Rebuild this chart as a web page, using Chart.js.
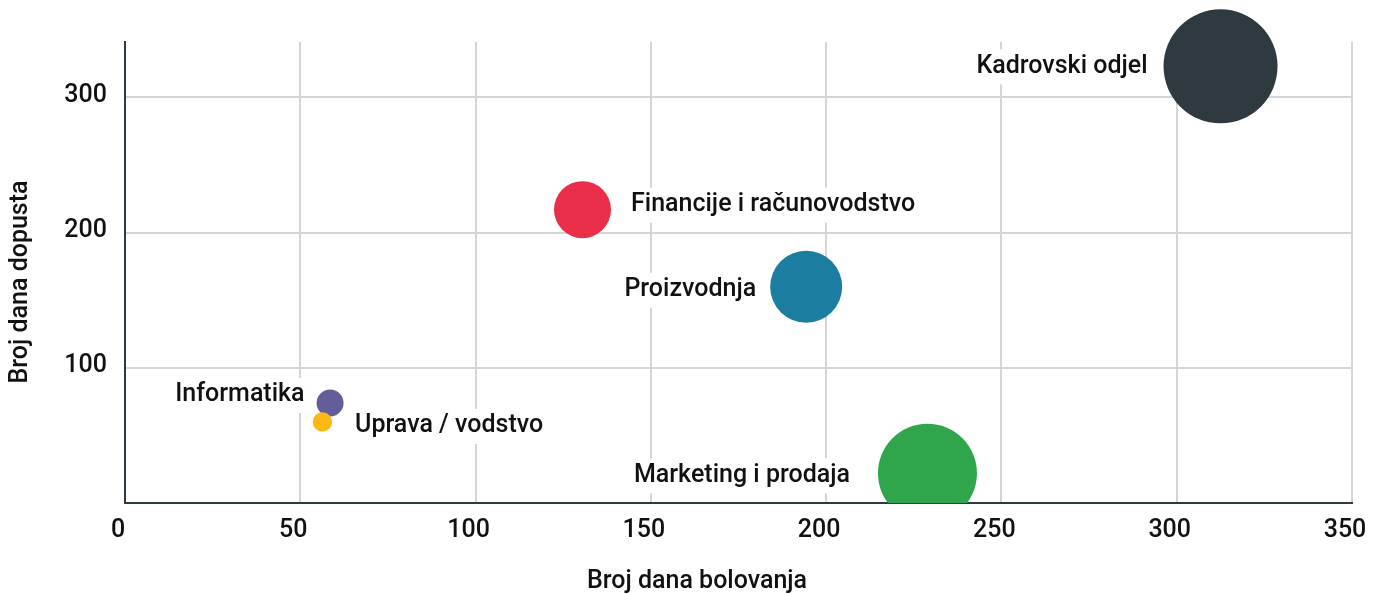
<!DOCTYPE html>
<html>
<head>
<meta charset="utf-8">
<script src="https://cdn.jsdelivr.net/npm/chart.js@4.4.1/dist/chart.umd.min.js"></script>
<style>
html,body{margin:0;padding:0;background:#ffffff;}
#wrap{width:1384px;height:594px;}
</style>
</head>
<body>
<div id="wrap"><canvas id="c" width="1384" height="594"></canvas></div>
<script>
// ---- data ----
const categories = ['Kadrovski odjel', 'Financije i računovodstvo', 'Proizvodnja', 'Informatika', 'Uprava / vodstvo', 'Marketing i prodaja'];
const sickDays = [312.5, 130.5, 194.3, 58.5, 56.3, 228.9];      // Broj dana bolovanja
const vacationDays = [323, 217, 160, 74, 60, 22];                // Broj dana dopusta
const bubbleValues = [57, 28.5, 36, 13.5, 9.7, 49.5];            // bubble size value
const xTickValues = [0, 50, 100, 150, 200, 250, 300, 350];
const yTickValues = [100, 200, 300];
const xTitle = 'Broj dana bolovanja';
const yTitle = 'Broj dana dopusta';

// ---- styles ----
const palette = ['#2e3a3f', '#e92e4a', '#1b7d9f', '#635d99', '#fdb913', '#2fa64b'];
const labelStyle = [
  { side: 'left', gap: 16, dy: 0 },
  { side: 'right', gap: 20, dy: -5 },
  { side: 'left', gap: 14, dy: 3 },
  { side: 'left', gap: 12, dy: -8 },
  { side: 'right', gap: 23, dy: 4 },
  { side: 'left', gap: 28, dy: 2 }
];
const FONT = '500 25px Roboto';
const TEXT = '#111111';

const labelPlugin = {
  id: 'bubbleLabels',
  afterDatasetsDraw(chart) {
    const ctx = chart.ctx;
    const meta = chart.getDatasetMeta(0);
    ctx.save();
    ctx.font = FONT;
    ctx.textBaseline = 'middle';
    ctx.textAlign = 'left';
    meta.data.forEach((el, i) => {
      const st = labelStyle[i];
      const r = el.options.radius;
      const txt = categories[i];
      const w = ctx.measureText(txt).width;
      const x = st.side === 'left' ? el.x - r - st.gap - w : el.x + r + st.gap;
      const y = el.y + st.dy;
      ctx.fillStyle = '#ffffff';
      ctx.fillRect(x - 3, y - 17, w + 6, 35);
      ctx.fillStyle = TEXT;
      ctx.fillText(txt, x, y);
    });
    ctx.restore();
  },
  afterDraw(chart) {
    const ctx = chart.ctx;
    ctx.save();
    ctx.font = FONT;
    ctx.fillStyle = TEXT;
    ctx.textBaseline = 'middle';
    ctx.textAlign = 'center';
    ctx.fillText(xTitle, 697, 582);
    ctx.translate(21, 282);
    ctx.rotate(-Math.PI / 2);
    ctx.fillText(yTitle, 0, 0);
    ctx.restore();
  }
};

const tickFont = { family: 'Roboto', size: 25, weight: '500' };
function zeroPad(s) { s.paddingLeft = 0; s.paddingRight = 0; s.paddingTop = 0; s.paddingBottom = 0; }

new Chart(document.getElementById('c'), {
  type: 'bubble',
  data: {
    datasets: [{
      label: 'Odjeli',
      data: categories.map((c, i) => ({ x: sickDays[i], y: vacationDays[i], r: bubbleValues[i] })),
      backgroundColor: palette,
      hoverBackgroundColor: palette,
      borderWidth: 0,
      hoverBorderWidth: 0,
      hoverRadius: 0,
      clip: { left: false, top: false, right: false, bottom: 0 }
    }]
  },
  options: {
    responsive: false,
    animation: false,
    events: [],
    layout: { autoPadding: false, padding: { top: 42, right: 32, left: 0, bottom: 0 } },
    plugins: { legend: { display: false }, tooltip: { enabled: false } },
    scales: {
      x: {
        type: 'linear',
        min: 0,
        max: 350,
        afterFit(s) { s.height = 91; zeroPad(s); },
        afterBuildTicks(s) { s.ticks = xTickValues.map(v => ({ value: v })); },
        grid: { color: '#d3d5d6', lineWidth: 2, drawTicks: false },
        border: { color: '#2e3a3f', width: 2 },
        ticks: { font: tickFont, color: TEXT, padding: 13, labelOffset: -7, maxRotation: 0, autoSkip: false }
      },
      y: {
        type: 'linear',
        min: 0,
        max: 341,
        afterFit(s) { s.width = 125; zeroPad(s); },
        afterBuildTicks(s) { s.ticks = yTickValues.map(v => ({ value: v })); },
        grid: { color: '#d3d5d6', lineWidth: 2, drawTicks: false },
        border: { color: '#2e3a3f', width: 2 },
        ticks: { font: tickFont, color: TEXT, padding: 18, labelOffset: -2, autoSkip: false }
      }
    }
  },
  plugins: [labelPlugin]
});
</script>
</body>
</html>
